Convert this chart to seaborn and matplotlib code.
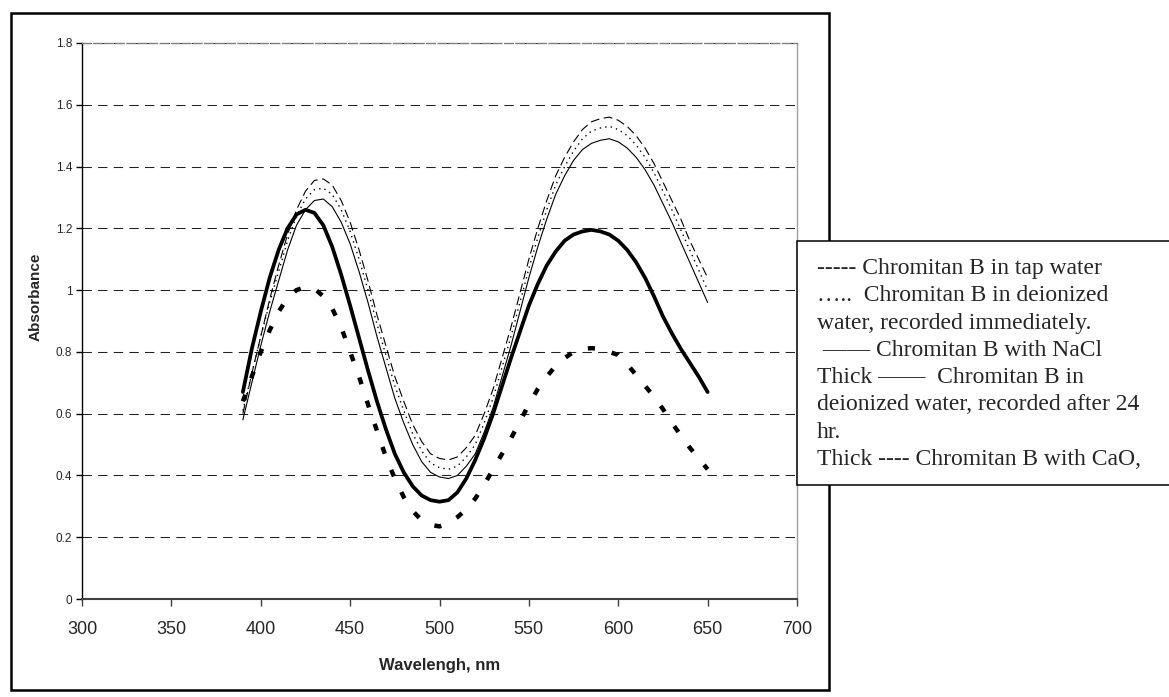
import matplotlib
matplotlib.use("Agg")
import matplotlib.pyplot as plt
import seaborn as sns
import pandas as pd
from matplotlib.patches import Rectangle

# wavelength grid (nm), absorbance every 5 nm
wavelength = list(range(390, 651, 5))

tap_water = [0.60, 0.73, 0.85, 0.97, 1.08, 1.18, 1.26, 1.32, 1.355, 1.36, 1.34, 1.29, 1.22, 1.13,
             1.03, 0.92, 0.82, 0.72, 0.64, 0.565, 0.51, 0.47, 0.455, 0.45, 0.46, 0.49, 0.53,
             0.60, 0.68, 0.78, 0.88, 0.99, 1.10, 1.20, 1.29, 1.37, 1.43, 1.48, 1.52, 1.545,
             1.555, 1.56, 1.55, 1.53, 1.50, 1.46, 1.41, 1.35, 1.29, 1.23, 1.16, 1.10, 1.04]
deionized_now = [0.61, 0.73, 0.85, 0.96, 1.06, 1.16, 1.24, 1.295, 1.325, 1.33, 1.31, 1.26, 1.19,
                 1.10, 1.00, 0.89, 0.79, 0.69, 0.61, 0.535, 0.48, 0.44, 0.425, 0.42, 0.43, 0.46,
                 0.50, 0.57, 0.65, 0.75, 0.85, 0.96, 1.07, 1.17, 1.26, 1.34, 1.40, 1.45, 1.49,
                 1.515, 1.525, 1.53, 1.52, 1.50, 1.47, 1.43, 1.38, 1.32, 1.26, 1.195, 1.13,
                 1.065, 1.00]
with_nacl = [0.58, 0.70, 0.82, 0.93, 1.03, 1.13, 1.21, 1.26, 1.29, 1.295, 1.27, 1.22, 1.15, 1.06,
             0.96, 0.85, 0.75, 0.65, 0.57, 0.50, 0.445, 0.41, 0.395, 0.39, 0.40, 0.43, 0.47,
             0.54, 0.62, 0.72, 0.82, 0.93, 1.04, 1.14, 1.23, 1.31, 1.37, 1.42, 1.455, 1.475,
             1.485, 1.49, 1.48, 1.46, 1.43, 1.39, 1.34, 1.28, 1.22, 1.155, 1.09, 1.025, 0.96]
deionized_24h = [0.67, 0.81, 0.93, 1.04, 1.13, 1.20, 1.245, 1.26, 1.25, 1.21, 1.14, 1.05, 0.95,
                 0.845, 0.74, 0.64, 0.55, 0.47, 0.41, 0.365, 0.335, 0.32, 0.315, 0.32, 0.345,
                 0.39, 0.45, 0.52, 0.60, 0.69, 0.78, 0.865, 0.95, 1.02, 1.08, 1.125, 1.16, 1.18,
                 1.19, 1.195, 1.19, 1.18, 1.16, 1.13, 1.09, 1.04, 0.98, 0.915, 0.86, 0.81, 0.765,
                 0.72, 0.67]
with_cao = [0.64, 0.72, 0.80, 0.87, 0.93, 0.975, 1.00, 1.01, 1.005, 0.98, 0.94, 0.88, 0.80, 0.72,
            0.63, 0.545, 0.46, 0.39, 0.33, 0.285, 0.255, 0.24, 0.235, 0.245, 0.265, 0.29, 0.325,
            0.37, 0.42, 0.47, 0.52, 0.575, 0.63, 0.68, 0.72, 0.755, 0.78, 0.80, 0.81, 0.812,
            0.81, 0.80, 0.79, 0.76, 0.725, 0.69, 0.655, 0.615, 0.57, 0.53, 0.49, 0.455, 0.42]

series = {
    "tap": tap_water,
    "deion_now": deionized_now,
    "nacl": with_nacl,
    "deion_24h": deionized_24h,
    "cao": with_cao,
}

legend_lines = [
    "----- Chromitan B in tap water",
    "\u2026..  Chromitan B in deionized",
    "water, recorded immediately.",
    " \u2014\u2014 Chromitan B with NaCl",
    "Thick \u2014\u2014  Chromitan B in",
    "deionized water, recorded after 24",
    "hr.",
    "Thick ---- Chromitan B with CaO,",
]

df = pd.concat(
    [pd.DataFrame({"wavelength": wavelength, "absorbance": vals, "series": name})
     for name, vals in series.items()],
    ignore_index=True,
)

sns.set_theme(style="white")
plt.rcParams["font.family"] = ["Liberation Sans", "DejaVu Sans"]

W, H = 1169, 697
fig = plt.figure(figsize=(W / 100, H / 100), dpi=100)
ax = fig.add_axes([82 / W, 1 - 599 / H, (797 - 82) / W, (599 - 43) / H])

# line styles: dash tuples are in units of line width
dashes = {"tap": (8, 4), "deion_now": (1, 3), "nacl": "", "deion_24h": "", "cao": (1.6, 3.9)}
sizes = {"tap": 0.8, "deion_now": 1.0, "nacl": 0.8, "deion_24h": 2.7, "cao": 3.2}
palette = {k: "black" for k in series}

sns.lineplot(data=df, x="wavelength", y="absorbance", hue="series", style="series",
             size="series", palette=palette, dashes=dashes, sizes=sizes,
             legend=False, ax=ax, sort=False)

ax.set_xlim(300, 700)
ax.set_ylim(0, 1.8)
ax.set_xticks(range(300, 701, 50))
ax.set_yticks([0, 0.2, 0.4, 0.6, 0.8, 1.0, 1.2, 1.4, 1.6, 1.8])
ax.set_yticklabels(["0", "0.2", "0.4", "0.6", "0.8", "1", "1.2", "1.4", "1.6", "1.8"])

ax.yaxis.grid(True, color="#222222", linewidth=0.75, linestyle=(0, (9, 6)))
ax.xaxis.grid(False)
ax.set_axisbelow(True)

ax.spines["left"].set_color("black")
ax.spines["left"].set_linewidth(1.0)
ax.spines["bottom"].set_color("#404040")
ax.spines["bottom"].set_linewidth(1.5)
ax.spines["right"].set_color("#a0a0a0")
ax.spines["right"].set_linewidth(1.0)
ax.spines["top"].set_color("#808080")
ax.spines["top"].set_linewidth(1.0)
ax.spines["top"].set_linestyle((0, (6, 2)))

ax.tick_params(axis="y", direction="out", length=4, width=1, pad=3, labelsize=8.5,
               left=True, color="black")
ax.tick_params(axis="x", direction="out", length=5, width=1, pad=11, labelsize=13,
               bottom=True, color="#404040")

ax.set_xlabel("Wavelengh, nm", fontsize=12, fontweight="bold", labelpad=14)
ax.set_ylabel("Absorbance", fontsize=11, fontweight="bold")
ax.yaxis.set_label_coords(-(82 - 43) / (797 - 82), (599 - 297) / (599 - 43))

# outer chart frame
fig.patches.append(Rectangle((11 / W, 1 - 690 / H), (829 - 11) / W, (690 - 13) / H,
                             transform=fig.transFigure, fill=False,
                             edgecolor="black", linewidth=1.8, zorder=5))

# text legend box, drawn over the frame
fig.patches.append(Rectangle((797 / W, 1 - 485 / H), (1175 - 797) / W, (485 - 241) / H,
                             transform=fig.transFigure, facecolor="white",
                             edgecolor="black", linewidth=1.1, zorder=6))
for i, line in enumerate(legend_lines):
    fig.text(817 / W, 1 - (274 + i * 27.3) / H, line, family=["Liberation Serif", "DejaVu Serif"],
             fontsize=17, va="baseline", ha="left", zorder=7)

fig.savefig("out.png", dpi=100, facecolor="white")
